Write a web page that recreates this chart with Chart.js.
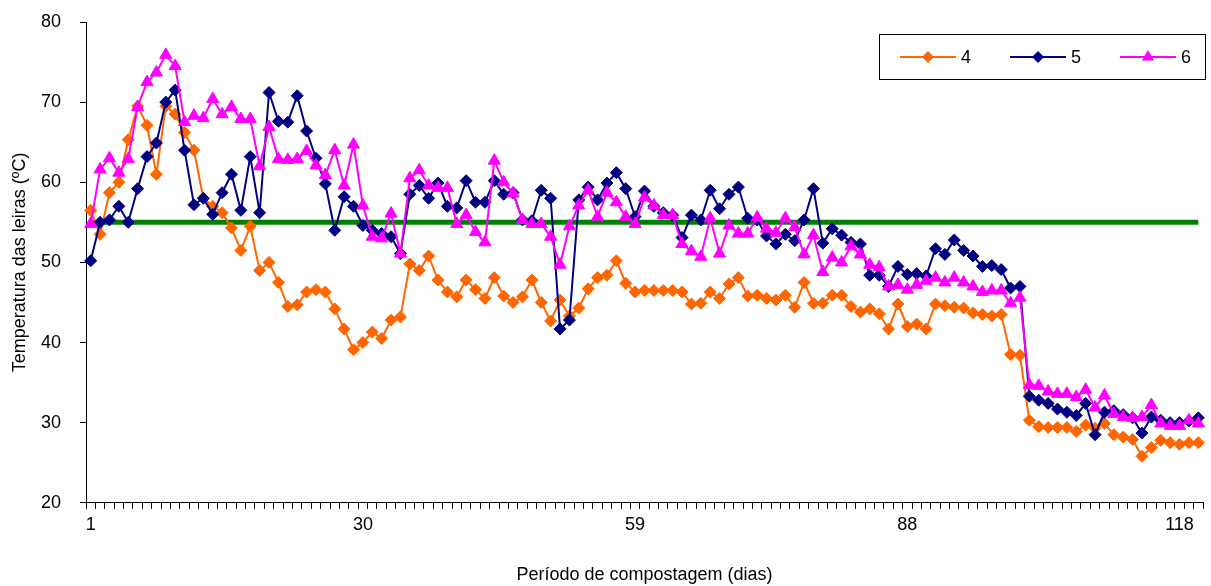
<!DOCTYPE html>
<html>
<head>
<meta charset="utf-8">
<script src="https://cdn.jsdelivr.net/npm/chart.js@4.4.0/dist/chart.umd.min.js"></script>
<style>
html, body { margin: 0; padding: 0; background: #fff; }
#wrap { width: 1211px; height: 586px; }
</style>
</head>
<body>
<div id="wrap"><canvas id="tempChart"></canvas></div>
<script>
// dias de amostragem (categorias do eixo x)
const days = [
  1, 2, 3, 4, 5, 6, 7, 8, 9, 10, 11, 12, 13, 14, 15, 16, 17, 18, 19, 20,
  21, 22, 23, 24, 25, 26, 27, 28, 29, 30, 31, 32, 33, 34, 35, 36, 37, 38, 39, 40,
  41, 42, 43, 44, 45, 46, 47, 48, 49, 50, 51, 52, 53, 54, 55, 56, 57, 58, 59, 60,
  61, 62, 63, 64, 65, 66, 67, 68, 69, 70, 71, 72, 73, 74, 75, 76, 77, 78, 79, 80,
  81, 82, 83, 84, 85, 86, 87, 88, 89, 90, 91, 92, 93, 94, 95, 96, 97, 98, 99, 100,
  102, 103, 104, 105, 106, 107, 108, 109, 110, 111, 112, 113, 114, 115, 116, 117, 118, 119, 120
];

const leira4 = [
  56.5, 53.5, 58.7, 60.0, 65.3, 69.5, 67.1, 61.0, 69.5, 68.5, 66.2, 64.0, 58.0, 57.0, 56.2, 54.3, 51.5, 54.5, 49.0, 50.0,
  47.5, 44.5, 44.7, 46.3, 46.6, 46.3, 44.2, 41.7, 39.1, 40.0, 41.3, 40.5, 42.8, 43.2, 49.8, 49.0, 50.8, 47.8, 46.3, 45.7,
  47.8, 46.6, 45.5, 48.1, 45.8, 45.0, 45.7, 47.8, 45.0, 42.7, 45.3, 43.3, 44.3, 46.7, 48.1, 48.4, 50.2, 47.4, 46.3, 46.5,
  46.5, 46.5, 46.5, 46.3, 44.8, 44.9, 46.3, 45.5, 47.3, 48.1, 45.8, 45.9, 45.5, 45.3, 45.9, 44.4, 47.5, 44.9, 44.9, 45.9,
  45.9, 44.5, 43.8, 44.2, 43.6, 41.7, 44.8, 42.0, 42.3, 41.7, 44.8, 44.6, 44.4, 44.3, 43.7, 43.5, 43.3, 43.5, 38.5, 38.4,
  30.3, 29.5, 29.4, 29.4, 29.4, 28.9, 29.7, 29.3, 29.9, 28.5, 28.2, 27.9, 25.8, 26.9, 27.8, 27.5, 27.3, 27.5, 27.5
];

const leira5 = [
  50.2, 55.0, 55.3, 57.0, 55.0, 59.2, 63.2, 64.9, 70.0, 71.5, 64.0, 57.2, 58.0, 56.0, 58.7, 61.0, 56.5, 63.2, 56.2, 71.2,
  67.6, 67.5, 70.8, 66.4, 63.0, 59.8, 54.0, 58.2, 57.0, 54.6, 54.0, 53.6, 53.2, 51.1, 58.5, 59.6, 58.0, 59.9, 57.0, 56.8,
  60.2, 57.5, 57.5, 60.2, 58.5, 58.7, 55.3, 55.2, 59.0, 58.0, 41.7, 42.8, 57.8, 59.4, 57.8, 59.9, 61.2, 59.2, 55.7, 58.9,
  57.0, 56.2, 55.9, 53.1, 55.9, 55.3, 59.0, 56.7, 58.5, 59.4, 55.5, 55.3, 53.3, 52.3, 53.5, 52.7, 55.3, 59.2, 52.4, 54.2,
  53.4, 52.5, 52.3, 48.4, 48.4, 47.0, 49.5, 48.5, 48.6, 48.3, 51.7, 51.0, 52.8, 51.5, 50.8, 49.5, 49.6, 49.1, 46.8, 47.0,
  33.3, 32.8, 32.4, 31.7, 31.3, 30.9, 32.4, 28.5, 31.3, 31.5, 31.0, 30.6, 28.7, 30.7, 30.3, 30.0, 30.0, 30.2, 30.6
];

const leira6 = [
  54.8, 61.6, 63.0, 61.2, 62.9, 69.4, 72.5, 73.7, 75.9, 74.5, 67.5, 68.3, 68.0, 70.4, 68.5, 69.4, 67.9, 67.9, 62.0, 66.9,
  62.9, 62.8, 62.9, 63.9, 62.1, 60.9, 64.0, 59.6, 64.7, 57.1, 53.2, 53.0, 56.1, 51.1, 60.5, 61.5, 59.6, 59.3, 59.3, 54.8,
  55.9, 53.8, 52.5, 62.7, 60.0, 58.6, 55.3, 54.8, 54.8, 53.2, 49.7, 54.5, 57.1, 59.0, 55.7, 58.7, 57.5, 55.7, 54.8, 58.1,
  57.1, 55.9, 55.9, 52.3, 51.4, 50.7, 55.5, 51.1, 54.6, 53.6, 53.6, 55.6, 54.2, 53.7, 55.5, 54.4, 51.0, 53.4, 48.8, 50.6,
  50.0, 52.0, 51.0, 49.7, 49.4, 47.0, 47.2, 46.6, 47.2, 47.7, 48.1, 47.5, 48.1, 47.5, 47.0, 46.3, 46.5, 46.5, 44.9, 45.6,
  34.7, 34.6, 33.9, 33.6, 33.6, 33.2, 34.1, 31.9, 33.4, 31.1, 30.7, 30.6, 30.7, 32.2, 29.9, 29.6, 29.6, 30.3, 29.9
];

// linha de referencia (fase termofilica)
const limite = 55;

const yTicks = [20, 30, 40, 50, 60, 70, 80];

const FONT = '"Liberation Sans", Arial, sans-serif';

// legenda desenhada a mao: linha + marcador + numero, dentro de uma caixa
const boxLegend = {
  id: 'boxLegend',
  afterDraw(chart) {
    const ctx = chart.ctx;
    const x0 = 879.5, y0 = 34.5, w = 326, h = 45;
    ctx.save();
    ctx.fillStyle = '#fff';
    ctx.fillRect(x0, y0, w, h);
    ctx.strokeStyle = '#000';
    ctx.lineWidth = 1;
    ctx.strokeRect(x0, y0, w, h);
    const cy = y0 + h / 2;
    const starts = [900, 1010, 1120];
    chart.data.datasets.slice(0, 3).forEach((ds, i) => {
      const lx = starts[i];
      ctx.strokeStyle = ds.borderColor;
      ctx.lineWidth = 2;
      ctx.beginPath();
      ctx.moveTo(lx, cy);
      ctx.lineTo(lx + 56, cy);
      ctx.stroke();
      const mx = lx + 28;
      ctx.fillStyle = ds.borderColor;
      ctx.beginPath();
      if (ds.pointStyle === 'triangle') {
        const r = 7;
        ctx.moveTo(mx, cy - r);
        ctx.lineTo(mx + r * 0.87, cy + r / 2);
        ctx.lineTo(mx - r * 0.87, cy + r / 2);
      } else {
        const r = 6;
        ctx.moveTo(mx, cy - r);
        ctx.lineTo(mx + r, cy);
        ctx.lineTo(mx, cy + r);
        ctx.lineTo(mx - r, cy);
      }
      ctx.closePath();
      ctx.fill();
      ctx.fillStyle = '#000';
      ctx.font = '18px ' + FONT;
      ctx.textBaseline = 'middle';
      ctx.textAlign = 'left';
      ctx.fillText(ds.label, lx + 61, cy + 1);
    });
    ctx.restore();
  }
};

const ctx = document.getElementById('tempChart').getContext('2d');
new Chart(ctx, {
  type: 'line',
  data: {
    labels: days,
    datasets: [
      {
        label: '4',
        data: leira4,
        borderColor: '#FF6600',
        backgroundColor: '#FF6600',
        borderWidth: 2,
        pointStyle: 'rectRot',
        pointRadius: 6,
        pointBorderWidth: 1,
        tension: 0,
        order: 3
      },
      {
        label: '5',
        data: leira5,
        borderColor: '#000080',
        backgroundColor: '#000080',
        borderWidth: 2,
        pointStyle: 'rectRot',
        pointRadius: 6,
        pointBorderWidth: 1,
        tension: 0,
        order: 2
      },
      {
        label: '6',
        data: leira6,
        borderColor: '#FF00FF',
        backgroundColor: '#FF00FF',
        borderWidth: 2,
        pointStyle: 'triangle',
        pointRadius: 7,
        pointBorderWidth: 1,
        tension: 0,
        order: 1
      },
      {
        label: 'limite',
        data: [{ x: days[0], y: limite }, { x: days[days.length - 1], y: limite }],
        borderColor: '#008000',
        borderWidth: 5,
        pointRadius: 0,
        tension: 0,
        order: 4
      }
    ]
  },
  options: {
    responsive: true,
    maintainAspectRatio: false,
    animation: false,
    layout: { padding: { top: 22, right: 0, left: 0, bottom: 0 } },
    plugins: {
      legend: { display: false },
      tooltip: { enabled: false }
    },
    scales: {
      x: {
        type: 'category',
        offset: true,
        afterFit: (axis) => {
          axis.paddingRight = 4;
        },
        grid: {
          display: true,
          offset: true,
          drawOnChartArea: false,
          drawTicks: true,
          tickLength: 6,
          color: '#000'
        },
        border: { display: true, color: '#000', width: 1 },
        ticks: {
          autoSkip: false,
          maxRotation: 0,
          minRotation: 0,
          color: '#000',
          padding: 5,
          font: { size: 18, family: FONT },
          callback: function (value, index) {
            return index % 29 === 0 ? String(days[index]) : '';
          }
        },
        title: {
          display: true,
          text: 'Período de compostagem (dias)',
          color: '#000',
          padding: { top: 24, bottom: 0 },
          font: { size: 18, family: FONT }
        }
      },
      y: {
        min: yTicks[0],
        max: yTicks[yTicks.length - 1],
        afterBuildTicks: (axis) => { axis.ticks = yTicks.map(v => ({ value: v })); },
        afterFit: (axis) => {
          axis.width = 86;
          axis.paddingTop = 10;
          axis.paddingBottom = 10;
        },
        grid: {
          display: true,
          drawOnChartArea: false,
          drawTicks: true,
          tickLength: 6,
          color: '#000'
        },
        border: { display: true, color: '#000', width: 1 },
        ticks: {
          color: '#000',
          padding: 19,
          font: { size: 18, family: FONT }
        },
        title: {
          display: true,
          text: 'Temperatura das leiras (ºC)',
          color: '#000',
          padding: { top: 9, bottom: 0 },
          font: { size: 18, family: FONT }
        }
      }
    }
  },
  plugins: [boxLegend]
});
</script>
</body>
</html>
